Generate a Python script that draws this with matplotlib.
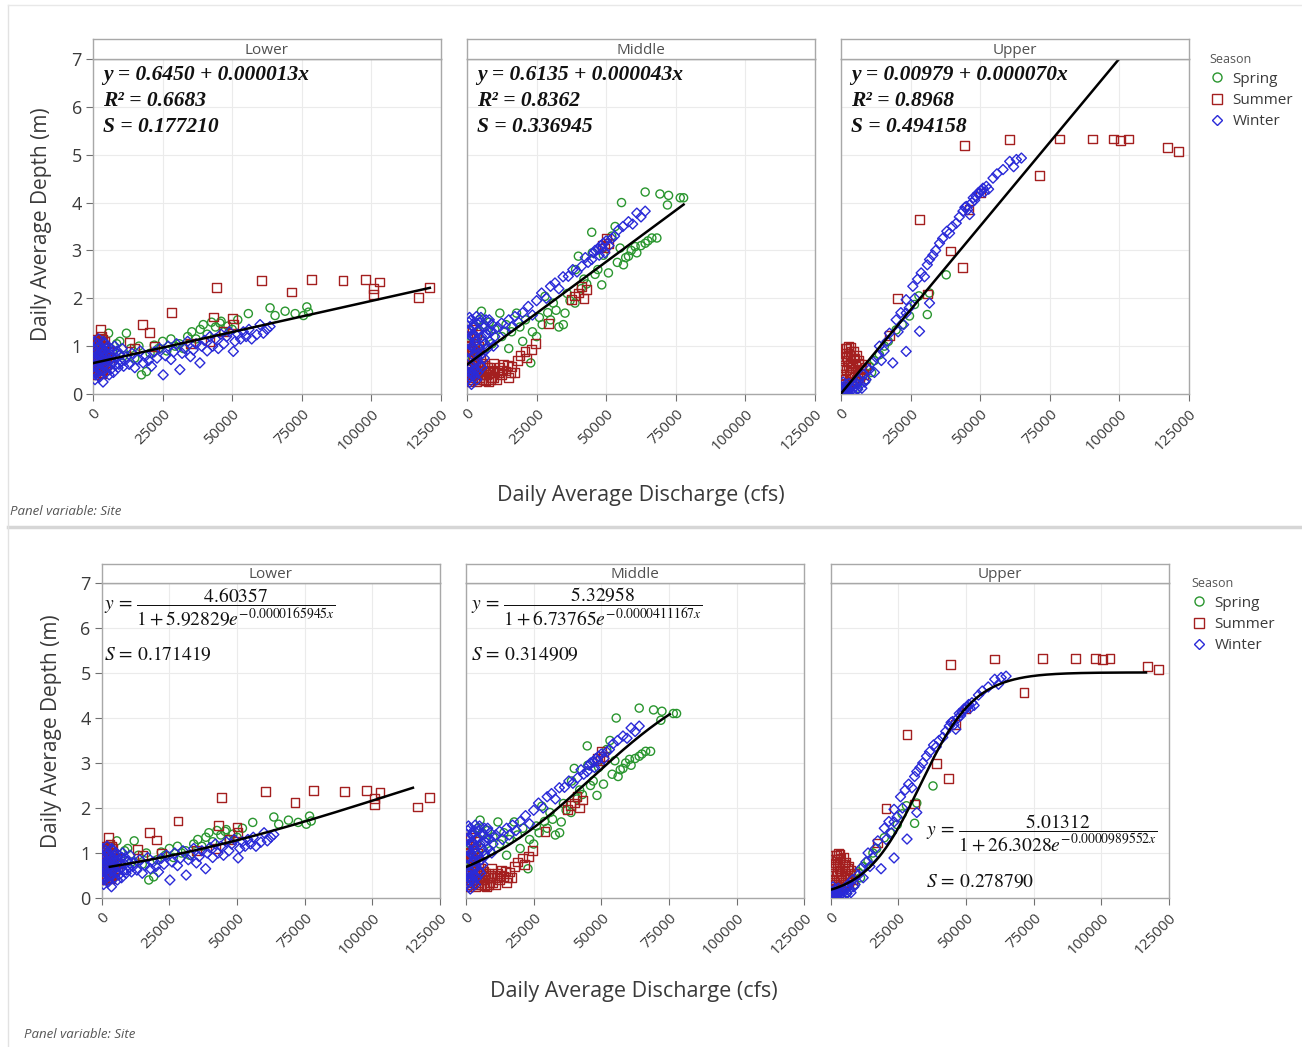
import matplotlib
matplotlib.use("Agg")
import matplotlib.pyplot as plt
from matplotlib.lines import Line2D
import numpy as np

# ---------------- data (discharge cfs, depth m) ----------------
sites = ["Lower", "Middle", "Upper"]
seasons = ["Spring", "Summer", "Winter"]

lower_spring = [(1000,0.95),(2500,1.10),(4000,0.85),(5600,1.27),(7000,0.90),(8500,1.05),(9600,1.10),(11000,0.80),
    (12000,1.27),(13500,0.95),(15000,0.75),(16500,1.00),(17400,0.40),(19200,0.47),(20500,0.85),(22000,1.02),
    (23500,0.95),(25000,1.10),(26500,0.90),(28000,1.15),(29500,1.00),(31000,1.05),(32500,0.95),(34000,1.20),
    (35500,1.30),(37000,1.15),(38500,1.35),(39600,1.45),(41000,1.25),(42600,1.50),(44000,1.40),(45600,1.48),
    (47000,1.30),(48500,1.42),(50000,1.35),(52000,1.55),(55800,1.68),(63600,1.80),(65400,1.64),(69000,1.73),
    (72600,1.68),(75600,1.64),(76800,1.82),(77400,1.71),(46000,1.52)]
lower_summer = [(500,0.55),(800,0.72),(1000,0.95),(1200,0.48),(1500,0.85),(1800,1.10),(2000,0.62),(2200,0.78),
    (2500,1.02),(2800,0.45),(3000,0.90),(3300,0.68),(3500,1.15),(3800,0.58),(4000,0.82),(4300,0.95),(4600,0.52),
    (5000,0.75),(5500,0.88),(6000,0.66),(700,1.05),(1100,0.40),(1600,0.98),(2100,0.70),(2600,0.60),(3100,1.20),
    (3600,0.50),(4100,0.86),(900,0.64),(1400,1.08),(1900,0.44),(2400,0.92),(2900,0.76),(3400,0.56),(3900,1.00),
    (4400,0.70),(2640,1.34),(17800,1.45),(20200,1.29),(13200,1.07),(28200,1.71),(44400,2.23),(43200,1.61),
    (50000,1.58),(50400,1.45),(42000,1.10),(60500,2.37),(71400,2.13),(78400,2.39),(89800,2.37),(97800,2.39),
    (100800,2.21),(100800,2.08),(102800,2.34),(116800,2.02),(121000,2.23),(15000,0.95),(22000,1.00),
    (35000,1.05),(47000,1.30),(300,0.85),(600,1.15),(1300,0.60),(1700,0.50),(2300,1.15),(2700,0.85),
    (3200,0.42),(3700,0.72),(4200,1.10),(4800,0.62)]
lower_winter = [(300,0.75),(600,0.60),(900,0.85),(1200,0.70),(1500,0.95),(1800,0.55),(2100,0.80),(2400,0.65),
    (2700,1.00),(3000,0.72),(3300,0.50),(3600,0.25),(3900,0.88),(4200,0.62),(4500,0.78),(4800,0.95),(5200,0.58),
    (5600,0.70),(6000,0.84),(6500,0.52),(7000,0.66),(7500,0.90),(8000,0.60),(8500,0.75),(9000,0.55),(9500,0.82),
    (10000,0.68),(11000,0.58),(12000,0.78),(13000,0.62),(14000,0.85),(15000,0.55),(16000,0.72),(17000,0.90),
    (18000,0.65),(19000,0.80),(20000,0.70),(21000,0.58),(22000,0.88),(23000,0.75),(24000,0.95),(25200,0.40),
    (26000,0.80),(27000,1.00),(28000,0.72),(29000,0.88),(30000,1.05),(31200,0.51),(32000,0.85),(33000,0.95),
    (34000,1.10),(35000,0.78),(36000,0.92),(37000,1.05),(38400,0.65),(39000,1.00),(40000,1.12),(41000,0.90),
    (42000,1.20),(43000,1.00),(44000,1.15),(45000,0.95),(46000,1.25),(47000,1.05),(48000,1.20),(49000,1.30),
    (50400,0.89),(51000,1.10),(52000,1.25),(53000,1.15),(54000,1.30),(55000,1.20),(56000,1.35),(57000,1.15),
    (58800,1.24),(60000,1.45),(61200,1.27),(62500,1.35),(63600,1.41),(400,0.95),(1000,0.45),(1700,1.05),
    (2300,0.35),(2900,0.90),(3500,0.60),(4100,1.05),(4700,0.45),(5400,1.00),(700,0.30),
    (200,0.50),(500,1.10),(800,0.40),(1300,0.88),(1600,0.68),(2000,1.15),(2500,0.48),(3100,0.82),(3700,1.10),
    (4400,0.70),(5000,0.85),(5800,0.40),(6300,0.95),(6800,0.75),(7300,0.45),(7800,1.00),(8700,0.90),(9300,0.62),
    (10500,0.95),(11500,0.70)]

middle_spring = [(500,0.60),(1000,0.90),(1500,1.20),(2000,0.75),(2500,1.40),(3000,1.05),(3500,0.85),(4000,1.30),
    (4500,1.55),(5200,1.73),(5500,1.10),(6000,1.45),(6500,0.95),(7000,1.25),(8000,1.50),(9000,1.05),(10000,1.35),
    (11800,1.69),(12500,1.20),(14000,1.45),(15000,0.95),(16000,1.30),(17800,1.69),(19000,1.40),(20000,1.10),
    (21000,1.55),(22900,0.65),(23500,1.30),(25000,1.20),(26000,1.60),(27000,1.45),(28000,2.04),(29000,1.70),
    (30000,1.55),(31000,1.90),(32000,1.75),(33000,1.40),(34600,1.45),(35200,1.69),(36000,2.10),(37000,1.95),
    (38800,1.90),(40000,2.88),(41000,2.20),(42000,2.40),(43000,2.30),(44800,3.38),(46000,2.50),(47000,2.60),
    (48400,2.28),(49000,2.90),(50800,2.53),(52000,3.30),(53200,3.50),(54000,2.75),(55000,3.05),(56200,2.70),
    (57000,2.85),(58000,2.88),(59000,3.00),(60400,3.08),(61000,2.95),(62500,3.10),(64000,3.15),(65000,3.20),
    (66400,3.26),(68200,3.26),(55500,4.00),(64000,4.22),(69300,4.18),(72400,4.15),(72000,3.95),(76600,4.10),
    (77800,4.10),(45000,2.95),(39000,2.60)]
middle_summer = [(300,0.40),(600,0.80),(900,1.20),(1200,0.55),(1500,0.95),(1800,1.35),(2100,0.30),(2400,0.70),
    (2700,1.10),(3000,0.45),(3300,0.85),(3600,0.25),(3900,0.60),(4200,1.00),(4500,0.35),(4800,0.75),(5200,0.50),
    (5800,0.30),(6400,0.60),(7000,0.40),(7600,0.25),(8200,0.55),(8800,0.35),(9400,0.65),(10000,0.45),
    (10800,0.30),(11600,0.55),(12400,0.40),(13200,0.62),(14000,0.48),(15000,0.35),(16000,0.58),(17000,0.45),
    (18000,0.70),(19000,0.80),(20800,0.89),(21500,0.75),(23200,0.93),(24500,1.05),(29200,1.48),(37600,1.97),
    (38500,2.05),(40000,2.11),(41000,2.25),(43000,2.18),(42000,2.00),(50200,3.26),(50800,3.15),(49500,3.05),
    (48500,3.10),(800,0.25),(1600,0.60),(2600,0.90),(3500,1.25),(4400,0.55),
    (500,1.00),(1000,0.60),(1400,0.35),(2000,0.90),(2500,0.50),(3200,0.65),(3800,0.40),(4600,0.30),(5500,0.65),
    (6100,0.40),(6700,0.28),(7300,0.55),(7900,0.45),(8500,0.30),(9100,0.50),(9700,0.35),(11200,0.45),
    (12800,0.50),(14500,0.60),(15500,0.45)]
middle_winter = [(200,0.30),(400,0.70),(600,1.10),(800,0.45),(1000,0.90),(1200,1.35),(1400,0.60),(1600,0.20),
    (1800,1.00),(2000,1.25),(2200,0.50),(2400,0.80),(2600,1.45),(2800,0.35),(3000,1.10),(3400,1.62),(3600,0.70),
    (3900,1.30),(4200,0.95),(4500,1.50),(4800,0.60),(5200,1.20),(5600,0.85),(6000,1.40),(6500,1.05),(7000,1.25),
    (7600,1.34),(8200,1.10),(9000,1.45),(10000,1.20),(11000,1.40),(12400,1.48),(13500,1.30),(15000,1.55),
    (16000,1.40),(17200,1.62),(18500,1.50),(20000,1.70),(22000,1.83),(23500,1.65),(25000,1.95),(26800,2.11),
    (28500,2.00),(30000,2.25),(31600,2.32),(33000,2.20),(34500,2.45),(36400,2.46),(38000,2.60),(39500,2.55),
    (41200,2.67),(42500,2.85),(43500,2.75),(44800,2.81),(45500,2.95),(46000,3.00),(47000,3.02),(47500,2.90),
    (48000,3.10),(48500,3.05),(49000,3.15),(49500,2.95),(50000,3.20),(51000,3.10),(52000,3.25),(53000,3.30),
    (54400,3.43),(56000,3.50),(58000,3.60),(59500,3.55),(61000,3.78),(62500,3.70),(64000,3.82),(1000,0.25),
    (2500,0.40),(3500,0.30),(700,1.50),(1500,1.55),
    (300,0.90),(500,1.30),(700,0.55),(900,1.60),(1100,0.35),(1300,0.75),(1700,1.20),(1900,0.45),(2100,1.40),
    (2300,0.95),(2700,0.65),(2900,1.20),(3200,0.50),(3700,1.00),(4000,0.45),(4300,1.35),(4700,0.80),(5000,1.60),
    (5400,0.55),(5800,1.10),(6200,0.75),(6800,1.55),(7300,0.95),(8000,1.55),(8600,1.30),(9500,1.00)]

upper_spring = [(3000,0.16),(5000,0.25),(7800,0.37),(6000,0.12),(10200,0.58),(9000,0.30),(12000,0.70),
    (13800,0.82),(15600,1.00),(19800,1.34),(24600,1.63),(26400,1.87),(31000,1.66),(31800,2.11),(37800,2.49),
    (2000,0.08),(4000,0.20),(11000,0.45),(17000,1.10),(22000,1.45),(28000,2.05)]
upper_summer = [(500,0.30),(1000,0.70),(1500,0.95),(2000,0.50),(2500,0.85),(2800,1.00),(3000,0.40),(3300,0.65),
    (3600,0.89),(4000,0.55),(4400,0.75),(4800,0.35),(5200,0.60),(5600,0.80),(6000,0.45),(6500,0.70),(7000,0.50),
    (7500,0.62),(8000,0.40),(8800,0.55),(1200,0.20),(2200,0.15),(3800,0.25),(700,0.55),(1800,0.78),(2600,0.60),
    (3500,0.45),(4600,0.90),(17400,1.22),(20400,1.99),(31000,2.09),(28200,3.64),(39200,2.99),(43600,2.65),
    (44400,5.19),(60600,5.31),(71400,4.56),(78400,5.33),(90400,5.33),(97800,5.33),(100400,5.30),(103200,5.33),
    (117200,5.15),(121200,5.07),(46000,3.85),(50000,4.20),
    (300,0.60),(900,0.40),(1400,0.85),(1700,0.30),(2300,0.70),(2900,0.25),(3200,0.80),(4200,0.40),(5000,0.75),
    (5400,0.30),(6200,0.65),(6800,0.35),(3400,0.98),(2100,0.95)]
upper_winter = [(500,0.05),(1000,0.10),(1500,0.02),(2000,0.12),(2500,0.05),(3000,0.09),(3500,0.15),(4000,0.03),
    (4500,0.18),(5400,0.23),(6000,0.10),(6500,0.30),(7000,0.20),(8000,0.40),(9000,0.30),(10200,0.51),(11000,0.65),
    (12000,0.45),(13000,0.80),(13800,1.00),(14500,0.70),(15500,0.90),(16500,1.10),(17400,1.27),(18600,0.65),
    (19800,1.55),(20500,1.30),(21500,1.70),(22500,1.45),(23400,1.97),(23400,0.89),(23400,1.69),(24500,1.80),
    (25800,2.25),(26500,2.00),(27500,2.40),(28200,1.31),(28800,2.53),(30000,2.45),(31000,2.70),(31800,2.81),
    (31800,1.90),(33000,2.90),(34000,3.00),(35400,3.15),(36500,3.25),(38000,3.40),(39000,3.36),(40000,3.50),
    (41400,3.57),(42500,3.70),(43800,3.82),(44500,3.90),(45000,3.92),(45500,3.85),(46200,3.75),(47000,4.00),
    (47500,4.10),(48000,4.05),(48600,4.13),(49200,4.20),(49800,4.20),(50500,4.25),(51000,4.30),(51500,4.22),
    (52200,4.34),(53000,4.28),(54600,4.51),(56000,4.60),(58200,4.69),(60600,4.86),(63000,4.90),(64800,4.93),
    (62000,4.75),(200,0.15),(800,0.25),(1200,0.05),(1800,0.20),(2800,0.22),(3300,0.05),(4200,0.10),(5000,0.05),
    (5800,0.20),(7500,0.12),(8500,0.25)]

# fitted model coefficients (from the chart annotations)
linear_a = ["0.6450", "0.6135", "0.00979"]
linear_b = ["0.000013", "0.000043", "0.000070"]
linear_r2 = ["0.6683", "0.8362", "0.8968"]
linear_s = ["0.177210", "0.336945", "0.494158"]
linear_range = [(0, 121000), (0, 77800), (0, 121000)]
logit_num = ["4.60357", "5.32958", "5.01312"]
logit_b = ["5.92829", "6.73765", "26.3028"]
logit_k = ["0.0000165945", "0.0000411167", "0.0000989552"]
logit_s = ["0.171419", "0.314909", "0.278790"]
logit_range = [(3000, 115000), (0, 75300), (0, 116500)]

xticks = [0, 25000, 50000, 75000, 100000, 125000]
yticks = [0, 1, 2, 3, 4, 5, 6, 7]

data = {"Lower": [lower_spring, lower_summer, lower_winter],
        "Middle": [middle_spring, middle_summer, middle_winter],
        "Upper": [upper_spring, upper_summer, upper_winter]}

colors = {"Spring": "#2a962f", "Summer": "#a41f1f", "Winter": "#2a2ad8"}
markers = {"Spring": "o", "Summer": "s", "Winter": "D"}
msize = {"Spring": 34, "Summer": 40, "Winter": 26}

# ---------------- figure ----------------
W, H = 1302, 1047
fig = plt.figure(figsize=(W / 100, H / 100), dpi=100)
plt.rcParams['mathtext.fontset'] = 'stix'
UI = "Open Sans"
GRAY = "#3a3a3a"
EDGE = "#a8a8a8"


def px_axes(x0, y0, x1, y1):
    return fig.add_axes([x0 / W, 1 - y1 / H, (x1 - x0) / W, (y1 - y0) / H])


def ftext(x, y, s, **kw):
    return fig.text(x / W, 1 - y / H, s, **kw)


def draw_row(lefts, rights, ytop, ybot, hdr_top, kind):
    for i, site in enumerate(sites):
        ax = px_axes(lefts[i], ytop, rights[i], ybot)
        hd = px_axes(lefts[i], hdr_top, rights[i], ytop)
        hd.set_xticks([]); hd.set_yticks([])
        for sp in hd.spines.values():
            sp.set_color(EDGE); sp.set_linewidth(1.0)
        hd.text(0.5, 0.45, site, ha="center", va="center", fontsize=11,
                family=UI, color="#505050", transform=hd.transAxes)

        for j, season in enumerate(seasons):
            pts = np.array(data[site][j], dtype=float)
            ax.scatter(pts[:, 0], pts[:, 1], marker=markers[season], s=msize[season],
                       facecolors="none", edgecolors=colors[season], linewidths=1.0, zorder=3)

        if kind == "linear":
            a, b = float(linear_a[i]), float(linear_b[i])
            xs = np.linspace(*linear_range[i], 200)
            ax.plot(xs, a + b * xs, color="black", lw=1.8, zorder=5)
        else:
            xs = np.linspace(*logit_range[i], 400)
            ys = float(logit_num[i]) / (1 + float(logit_b[i]) * np.exp(-float(logit_k[i]) * xs))
            ax.plot(xs, ys, color="black", lw=1.8, zorder=5)

        ax.set_xlim(0, 125000)
        ax.set_ylim(0, 7)
        ax.set_xticks(xticks)
        ax.set_xticklabels([str(t) for t in xticks], rotation=45, ha="right", va="top",
                           rotation_mode="anchor", fontsize=11, family=UI, color=GRAY)
        ax.set_yticks(yticks)
        if i == 0:
            ax.set_yticklabels([str(t) for t in yticks], fontsize=13, family=UI, color=GRAY)
            ax.tick_params(axis="y", length=5, color="#707070", pad=3)
        else:
            ax.set_yticklabels([])
            ax.tick_params(axis="y", length=0)
        ax.tick_params(axis="x", length=5, color="#707070", pad=4)
        ax.grid(True, color="#ebebeb", lw=0.8, zorder=0)
        ax.set_axisbelow(True)
        for sp in ax.spines.values():
            sp.set_color(EDGE); sp.set_linewidth(1.0)


# top row (linear fits)
top_l = [93, 467, 841]
top_r = [441, 815, 1189]
draw_row(top_l, top_r, 59, 394, 39, "linear")
# bottom row (logistic fits)
bot_l = [101.7, 466, 830.7]
bot_r = [440, 804.3, 1169]
draw_row(bot_l, bot_r, 583, 898, 564, "logistic")

# top-row equations
for i in range(3):
    x0 = top_l[i] + 10
    kw = dict(family="Liberation Serif", fontweight="bold", style="italic",
              fontsize=15.5, color="#111111", va="center", ha="left")
    ftext(x0, 75, f"y = {linear_a[i]} + {linear_b[i]}x", **kw)
    ftext(x0, 101, f"R² = {linear_r2[i]}", **kw)
    ftext(x0, 127, f"S = {linear_s[i]}", **kw)

# bottom-row equations
eq_pos = [(104, 607, 104, 655), (471, 607, 471, 655), (926, 833, 926, 882)]
for i in range(3):
    ex, ey, sx, sy = eq_pos[i]
    eq = r"$y\,=\,\dfrac{%s}{1+%se^{-%sx}}$" % (logit_num[i], logit_b[i], logit_k[i])
    ftext(ex, ey, eq, fontsize=14, color="#111111", va="center", ha="left")
    ftext(sx, sy, r"$S\,=\,%s$" % logit_s[i], fontsize=14, color="#111111", va="center", ha="left")

# axis labels
for (x, y) in [(42, 224), (52, 731)]:
    ftext(x, y, "Daily Average Depth (m)", rotation=90, fontsize=15, family=UI, color=GRAY,
          ha="center", va="center")
for (x, y) in [(641, 496), (634, 992)]:
    ftext(x, y, "Daily Average Discharge (cfs)", fontsize=15.5, family=UI, color=GRAY,
          ha="center", va="center")
ftext(10, 511, "Panel variable: Site", fontsize=9.5, family=UI, style="italic", color="#555555",
      ha="left", va="center")
ftext(24, 1035, "Panel variable: Site", fontsize=9.5, family=UI, style="italic", color="#555555",
      ha="left", va="center")

# separators / frame lines
fig.add_artist(Line2D([8 / W, 1], [1 - 527 / H] * 2, color="#d6d6d6", lw=2.5))
fig.add_artist(Line2D([8 / W] * 2, [0, 1 - 5 / H], color="#e2e2e2", lw=1))
fig.add_artist(Line2D([8 / W, 1], [1 - 5 / H] * 2, color="#e8e8e8", lw=1))

# legends
handles = [Line2D([], [], ls="none", marker=markers[s], mfc="none", mec=colors[s],
                  ms=6.5 if s != "Winter" else 5.5, mew=1.0) for s in seasons]
for lx, ly in ((1199, 42), (1181, 566)):
    leg = fig.legend(handles, seasons, title="Season", loc="upper left",
                     bbox_to_anchor=(lx / W, 1 - ly / H), frameon=False, fontsize=11,
                     title_fontsize=9, handlelength=1.0, handletextpad=0.5,
                     labelspacing=0.4, alignment="left", borderpad=0.2)
    for t in leg.get_texts():
        t.set_family(UI); t.set_color(GRAY)
    leg.get_title().set_family(UI); leg.get_title().set_color("#555555")

fig.savefig("out.png", dpi=100, facecolor="white")
